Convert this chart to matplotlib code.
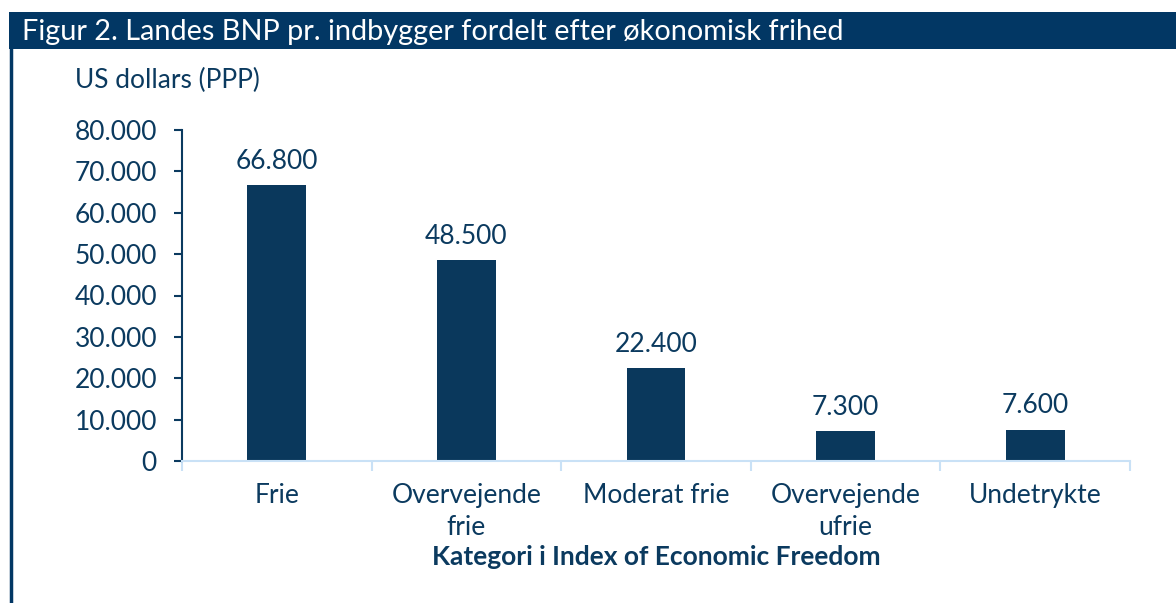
import matplotlib
matplotlib.use("Agg")
import matplotlib.pyplot as plt
from matplotlib.patches import Rectangle
from matplotlib.lines import Line2D

categories = ["Frie", "Overvejende\nfrie", "Moderat frie", "Overvejende\nufrie", "Undetrykte"]
values = [66800, 48500, 22400, 7300, 7600]
yticks = [0, 10000, 20000, 30000, 40000, 50000, 60000, 70000, 80000]
title = "Figur 2. Landes BNP pr. indbygger fordelt efter økonomisk frihed"
ylabel = "US dollars (PPP)"
xlabel = "Kategori i Index of Economic Freedom"

NAVY = "#0b3a5f"
BAR = "#0a385c"
HEAD = "#023764"
LIGHT = "#c9e1f6"

plt.rcParams["font.family"] = ["Lato", "DejaVu Sans"]

W, H = 1176, 603
fig = plt.figure(figsize=(W / 100, H / 100), dpi=100)

# Header bar and left frame line
fig.add_artist(Rectangle((9 / W, 1 - 49 / H), 1 - 9 / W, 37 / H, transform=fig.transFigure,
                         facecolor=HEAD, edgecolor="none"))
fig.add_artist(Line2D([10.5 / W, 10.5 / W], [0, 1 - 49 / H], transform=fig.transFigure,
                      color=HEAD, linewidth=2.5))
fig.text(22 / W, 1 - 32 / H, title, color="white", fontsize=20.8, va="center", ha="left")
fig.text(75 / W, 1 - 80 / H, ylabel, color=NAVY, fontsize=19, va="center", ha="left")

ax = fig.add_axes([182 / W, 1 - 461 / H, (1130 - 182) / W, (461 - 130) / H])
x = list(range(len(categories)))
bars = ax.bar(x, values, width=0.31, color=BAR, zorder=2)
for xi, v in zip(x, values):
    ax.annotate(f"{v:,.0f}".replace(",", "."), (xi, v), xytext=(0, 8), textcoords="offset points",
                ha="center", va="bottom", color=NAVY, fontsize=19)

ax.set_xlim(-0.5, len(categories) - 0.5)
ax.set_ylim(0, 80000)
ax.set_yticks(yticks)
ax.set_yticklabels([f"{t:,.0f}".replace(",", ".") for t in yticks])
ax.set_xticks(x)
ax.set_xticklabels(categories)
ax.set_xticks([i - 0.5 for i in range(len(categories) + 1)], minor=True)

for s in ["top", "right"]:
    ax.spines[s].set_visible(False)
ax.spines["left"].set_color(NAVY)
ax.spines["left"].set_linewidth(1.5)
ax.spines["bottom"].set_color(LIGHT)
ax.spines["bottom"].set_linewidth(1.5)

ax.tick_params(axis="y", direction="out", length=6, width=1.5, color=NAVY,
               labelcolor=NAVY, labelsize=19, pad=12)
ax.tick_params(axis="x", which="major", length=0, labelcolor=NAVY, labelsize=19, pad=16)
ax.tick_params(axis="x", which="minor", direction="out", length=7, width=1.5, color=LIGHT)
for lbl in ax.get_xticklabels():
    lbl.set_linespacing(1.35)

fig.text(656 / W, 1 - 557 / H, xlabel, color=NAVY, fontsize=19, fontweight="bold",
         ha="center", va="center")

fig.savefig("out.png", dpi=100)
